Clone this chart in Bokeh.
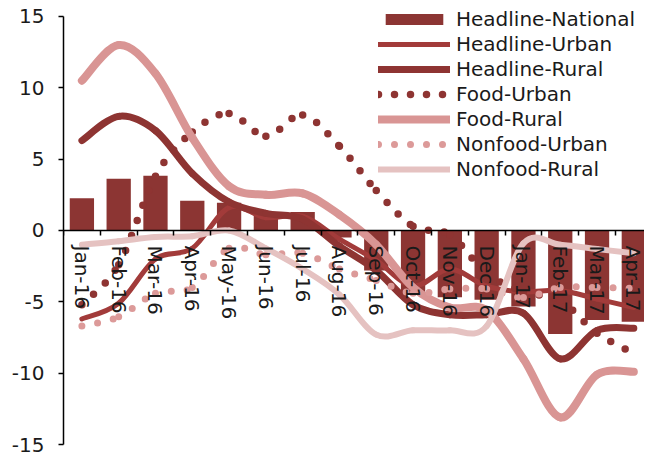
import numpy as np
from bokeh.plotting import figure
from bokeh.models import Range1d, FixedTicker, LinearAxis, ColumnDataSource, Legend, LegendItem
from bokeh.embed import file_html
from bokeh.resources import INLINE

months = ["Jan-16", "Feb-16", "Mar-16", "Apr-16", "May-16", "Jun-16", "Jul-16", "Aug-16",
          "Sep-16", "Oct-16", "Nov-16", "Dec-16", "Jan-17", "Feb-17", "Mar-17", "Apr-17"]

headline_national = [2.26, 3.63, 3.84, 2.08, 1.94, 1.25, 1.3, -0.5, -2.8, -4.45, -4.68, -4.86, -5.32, -7.26, -6.28, -6.39]
headline_urban = [-6.2, -5.1, -2.0, -1.25, 1.6, 0.9, 1.0, -0.6, -2.1, -3.9, -2.7, -3.9, -4.3, -4.2, -4.8, -5.4]
headline_rural = [6.3, 8.0, 7.0, 4.0, 2.0, 1.2, 0.8, -1.1, -2.8, -5.2, -5.9, -5.9, -5.8, -9.0, -7.0, -6.85]
food_urban = [-5.2, -2.4, 3.8, 6.9, 8.2, 6.6, 8.1, 5.9, 2.8, 0.3, -0.3, -3.0, -4.3, -4.9, -7.2, -8.6]
food_rural = [10.5, 13.0, 11.0, 6.5, 3.1, 2.5, 2.6, 1.1, -1.0, -4.0, -5.4, -5.6, -9.0, -13.1, -10.1, -9.9]
nonfood_urban = [-6.7, -6.05, -4.4, -4.0, -1.25, -1.7, -1.6, -2.7, -3.5, -4.4, -4.1, -4.1, -4.7, -4.0, -4.0, -4.05]
nonfood_rural = [-1.0, -0.75, -0.45, -0.4, 0.0, -1.25, -2.7, -4.5, -7.3, -7.0, -7.0, -6.7, -0.9, -1.0, -1.3, -1.6]

y_ticks = [-15, -10, -5, 0, 5, 10, 15]
y_tick_labels = ["-15", "-10", "-5", "0", "5", "10", "15"]

FONT = "DejaVu Sans"
FSIZE = "20px"

idx = list(range(len(months)))
bounds_ticks = [i - 0.5 for i in range(len(months) + 1)]

p = figure(width=644, height=456, output_backend="svg", toolbar_location=None,
           x_range=Range1d(-0.5, 15.29), y_range=Range1d(-15, 16.12),
           min_border_left=63, min_border_right=0, min_border_top=0, min_border_bottom=12,
           x_axis_type=None, y_axis_type=None)
p.grid.visible = False
p.outline_line_color = None
p.background_fill_color = "white"

# Y axis
yax = LinearAxis(ticker=FixedTicker(ticks=y_ticks), bounds=(-15, 15),
                 major_label_overrides=dict(zip(y_ticks, y_tick_labels)))
yax.axis_line_color = "black"
yax.axis_line_width = 1.5
yax.major_tick_line_color = "black"
yax.major_tick_line_width = 1.5
yax.major_tick_out = 5
yax.major_tick_in = 0
yax.minor_tick_line_color = None
yax.major_label_standoff = 14
yax.major_label_text_font = FONT
yax.major_label_text_font_size = FSIZE
yax.major_label_text_color = "#1a1a1a"
p.add_layout(yax, "left")

# X axis at y=0: labels at category centres, tick marks at category boundaries
xax = LinearAxis(ticker=FixedTicker(ticks=idx, minor_ticks=bounds_ticks), fixed_location=0,
                 major_label_overrides={i: m for i, m in enumerate(months)})
xax.axis_line_color = "black"
xax.axis_line_width = 1.5
xax.major_tick_line_color = None
xax.major_tick_out = 0
xax.major_tick_in = 0
xax.minor_tick_line_color = "black"
xax.minor_tick_line_width = 1.5
xax.minor_tick_out = 5
xax.minor_tick_in = 0
xax.major_label_standoff = 10
xax.major_label_orientation = "vertical"
xax.major_label_text_font = FONT
xax.major_label_text_font_size = FSIZE
xax.major_label_text_color = "#1a1a1a"

bars = p.vbar(x=idx, top=headline_national, width=0.66, color="#8C3533", line_color=None)


def smooth_source(vals):
    y = np.asarray(vals, dtype=float)
    x = np.asarray(idx, dtype=float)
    n = len(y)
    px = np.concatenate([[x[0]], x, [x[-1]]])
    py = np.concatenate([[y[0]], y, [y[-1]]])
    i = np.arange(n - 1)
    cx0 = px[i + 1] + (px[i + 2] - px[i]) / 6
    cy0 = py[i + 1] + (py[i + 2] - py[i]) / 6
    cx1 = px[i + 2] - (px[i + 3] - px[i + 1]) / 6
    cy1 = py[i + 2] - (py[i + 3] - py[i + 1]) / 6
    return ColumnDataSource(dict(x0=x[:-1], y0=y[:-1], x1=x[1:], y1=y[1:],
                                 cx0=cx0, cy0=cy0, cx1=cx1, cy1=cy1))


series = [
    ("Headline-Urban", headline_urban, "#A23B3A", 5, "solid"),
    ("Headline-Rural", headline_rural, "#8E3432", 7, "solid"),
    ("Food-Urban", food_urban, "#8E3432", 7.5, "0 16"),
    ("Food-Rural", food_rural, "#D99594", 8, "solid"),
    ("Nonfood-Urban", nonfood_urban, "#DC9A99", 7, "0 16"),
    ("Nonfood-Rural", nonfood_rural, "#E5C2C1", 6, "solid"),
]

items = [LegendItem(label="Headline-National", renderers=[bars])]
for name, vals, col, lw, dash in series:
    r = p.bezier(x0="x0", y0="y0", x1="x1", y1="y1", cx0="cx0", cy0="cy0", cx1="cx1", cy1="cy1",
                 source=smooth_source(vals), line_color=col, line_width=lw,
                 line_dash=dash, line_cap="round", line_join="round")
    items.append(LegendItem(label=name, renderers=[r]))

p.add_layout(xax, "below")

legend = Legend(items=items, location=(315, 263))
legend.background_fill_alpha = 0
legend.border_line_color = None
legend.padding = 0
legend.margin = 0
legend.spacing = 1
legend.glyph_width = 72
legend.glyph_height = 14
legend.label_height = 22
legend.label_standoff = 6
legend.label_text_font = FONT
legend.label_text_font_size = FSIZE
legend.label_text_color = "#1a1a1a"
p.add_layout(legend, "center")

open("out.html", "w").write(file_html(p, INLINE))
